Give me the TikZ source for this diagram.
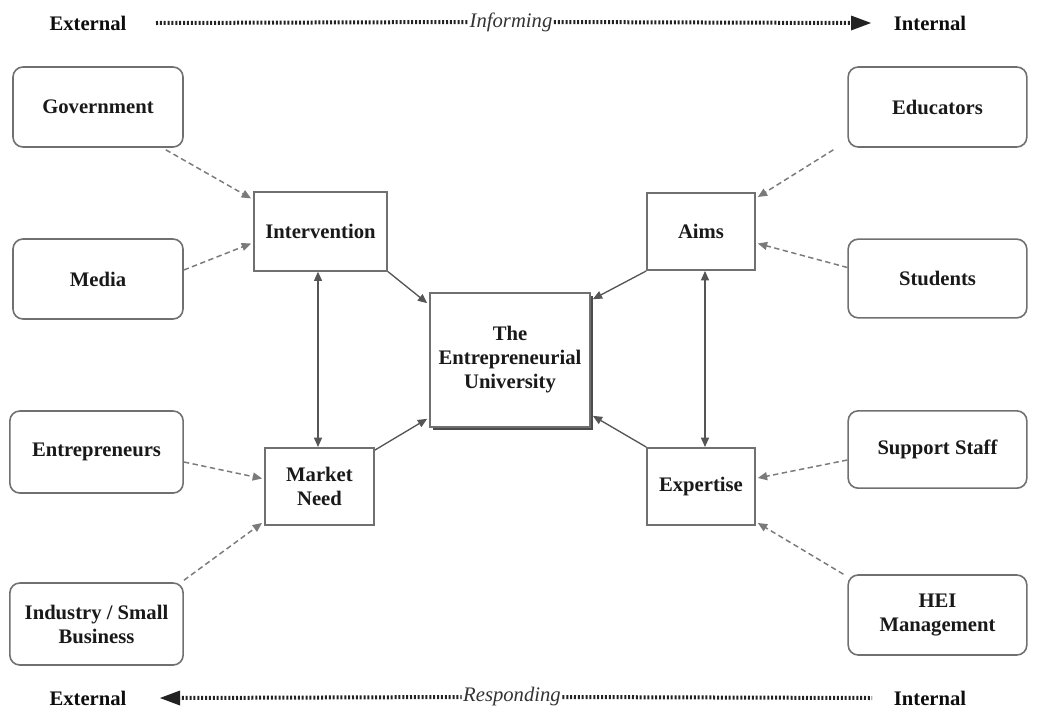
\documentclass[tikz,border=0pt]{standalone}
\usepackage{fontspec}
\setmainfont{Liberation Serif}
\usetikzlibrary{arrows.meta,calc}
\definecolor{boxgray}{HTML}{707070}
\definecolor{linegray}{HTML}{555555}
\definecolor{dashgray}{HTML}{7A7A7A}
\definecolor{dotgray}{HTML}{222222}
\begin{document}
\begin{tikzpicture}[x=0.75pt,y=-0.75pt,
  lbl/.style={font=\fontsize{15.5}{18}\selectfont\bfseries, align=center, text=black!90},
  outerbox/.style={lbl, draw=boxgray, line width=1.2pt, rounded corners=7.5pt, inner sep=2pt},
  innerbox/.style={lbl, draw=boxgray, line width=1.2pt, inner sep=2pt, fill=white},
  dashcon/.style={draw=dashgray, line width=1.1pt, dash pattern=on 4pt off 2.6pt, -{Triangle[length=7pt,width=6pt]}},
  solidcon/.style={draw=linegray, line width=1pt, -{Triangle[length=7pt,width=6pt]}},
  bothcon/.style={draw=linegray, line width=1pt, {Triangle[length=7pt,width=6pt]}-{Triangle[length=7pt,width=6pt]}},
  dotline/.style={draw=dotgray, line width=3pt, dash pattern=on 1.5pt off 1.4pt},
  endlbl/.style={font=\fontsize{15.5}{18}\selectfont\bfseries, text=black!95},
  midlbl/.style={font=\fontsize{15.5}{18}\selectfont\itshape, text=black!80, inner sep=1pt}
]
\useasboundingbox (0,0) rectangle (1039,711);

% outer boxes
\node[outerbox, minimum width=127.5pt, minimum height=60pt] (gov) at (98,107) {Government};
\node[outerbox, minimum width=127.5pt, minimum height=60pt] (med) at (98,279) {Media};
\node[outerbox, minimum width=130pt, minimum height=61.5pt] (ent) at (96.5,452) {Entrepreneurs};
\node[outerbox, minimum width=130pt, minimum height=61.5pt] (ind) at (96.5,624) {Industry / Small\\Business};
\node[outerbox, minimum width=134pt, minimum height=60pt] (edu) at (937.5,107) {Educators};
\node[outerbox, minimum width=134pt, minimum height=59pt] (stu) at (937.5,278.5) {Students};
\node[outerbox, minimum width=134pt, minimum height=58pt] (sup) at (937.5,449.5) {Support Staff};
\node[outerbox, minimum width=134pt, minimum height=60pt] (hei) at (937.5,615) {HEI\\Management};

% inner boxes
\node[innerbox, minimum width=100pt, minimum height=59pt] (int) at (320.5,231.5) {Intervention};
\node[innerbox, minimum width=82pt, minimum height=58pt] (mkt) at (319.5,486.5) {Market\\Need};
\node[innerbox, minimum width=81pt, minimum height=58pt] (aim) at (701,231.5) {Aims};
\node[innerbox, minimum width=81pt, minimum height=58pt] (exp) at (701,486.5) {Expertise};

% central box with shadow
\fill[black!70] (433,296) rectangle (593,430);
\node[innerbox, minimum width=120pt, minimum height=100.5pt] (cen) at (510,360) {The\\Entrepreneurial\\University};

% dashed connectors
\draw[dashcon] ($(gov.south east)+(-18,2)$) -- ($(int.north west)+(-2,7)$);
\draw[dashcon] ($(med.east)+(0,-9)$) -- ($(int.west)+(-2,12)$);
\draw[dashcon] ($(ent.east)+(0,10)$) -- ($(mkt.west)+(-2,-8)$);
\draw[dashcon] ($(ind.north east)+(0,-2)$) -- ($(mkt.south west)+(-2,-3)$);
\draw[dashcon] ($(edu.south west)+(-14,2)$) -- ($(aim.north east)+(2,5)$);
\draw[dashcon] ($(stu.west)+(0,-11)$) -- ($(aim.east)+(2,12)$);
\draw[dashcon] ($(sup.west)+(0,10.5)$) -- ($(exp.east)+(2,-8.5)$);
\draw[dashcon] ($(hei.north west)+(-4,0)$) -- ($(exp.south east)+(2,-3)$);

% solid connectors
\draw[solidcon] (int.south east) -- ($(cen.north west)+(-2,11)$);
\draw[solidcon] ($(mkt.north east)+(0,3)$) -- ($(cen.south west)+(-2,-9)$);
\draw[solidcon] (aim.south west) -- ($(cen.north east)+(2,7)$);
\draw[solidcon] (exp.north west) -- ($(cen.south east)+(2,-12)$);
\draw[bothcon] ($(int.south)+(-2.5,0)$) -- ($(mkt.north)+(-1.5,0)$);
\draw[bothcon] ($(aim.south)+(4,0)$) -- ($(exp.north)+(4,0)$);

% top axis
\node[endlbl] (ext1) at (88,23) {External};
\node[endlbl] (int1) at (930,23) {Internal};
\node[midlbl] (inf) at (511,22) {Informing};
\coordinate (tl) at (156,23);
\coordinate (tr) at (871,23);
\draw[dotline] (tl) -- (inf.west);
\draw[dotline] (inf.east) -- ($(tr)+(-18,0)$);
\fill[dotgray] (tr) -- ++(-20,-7.5) -- ++(0,15) -- cycle;

% bottom axis
\node[endlbl] (ext2) at (88,698) {External};
\node[endlbl] (int2) at (930,698) {Internal};
\node[midlbl] (res) at (512,697) {Responding};
\coordinate (bl) at (160,698);
\coordinate (br) at (872,698);
\draw[dotline] ($(bl)+(18,0)$) -- (res.west);
\draw[dotline] (res.east) -- (br);
\fill[dotgray] (bl) -- ++(20,-7.5) -- ++(0,15) -- cycle;
\end{tikzpicture}
\end{document}
